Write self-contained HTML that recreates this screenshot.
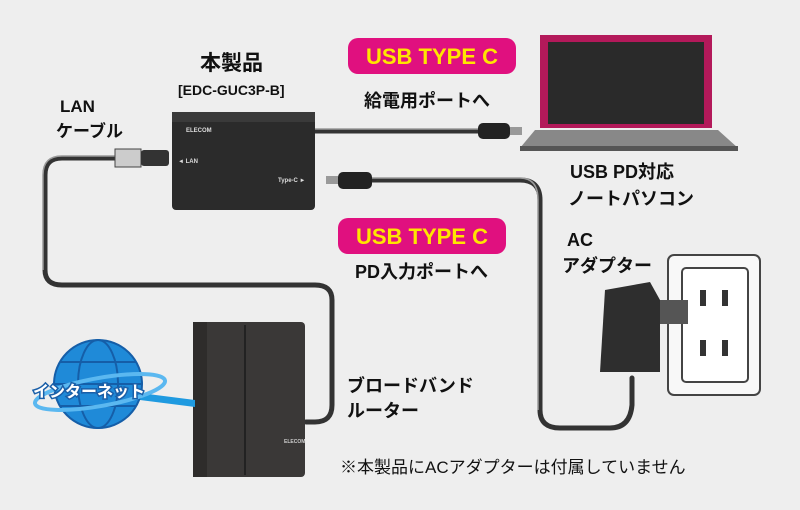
<!DOCTYPE html>
<html><head><meta charset="utf-8"><style>
html,body{margin:0;padding:0;background:#eeeeee;}
svg{display:block;}
text{font-family:"Liberation Sans","Noto Sans CJK JP",sans-serif;font-weight:bold;fill:#111;}
</style></head><body>
<svg width="800" height="510" viewBox="0 0 800 510" xmlns="http://www.w3.org/2000/svg">
<rect width="800" height="510" fill="#eeeeee"/>
<!-- cables -->
<g fill="none" stroke="#333" stroke-width="5" stroke-linecap="round">
<path d="M315 131 H480"/>
<path d="M370 180 H520 Q540 180 540 200 V410 Q540 428 560 428 H610 Q630 428 632 405 V378"/>
<path d="M118 158 H62 Q45 158 45 175 V270 Q45 285 62 285 H315 Q332 285 332 300 V405 Q332 422 315 422 H306"/>
</g>
<g fill="none" stroke="#9a9a9a" stroke-width="1.5">
<path d="M315 129 H480"/><path d="M370 178 H520 Q538 178 538 200 V410"/><path d="M118 156 H62 Q43 156 43 175 V270"/>
</g>
<!-- hub -->
<rect x="172" y="112" width="143" height="98" rx="4" fill="#2b2b2b"/>
<rect x="172" y="112" width="143" height="10" fill="#3a3a3a"/>
<text x="186" y="132" font-size="6" style="fill:#ddd">ELECOM</text>
<text x="178" y="163" font-size="6" style="fill:#ddd">◄ LAN</text>
<text x="278" y="182" font-size="6" style="fill:#ddd">Type-C ►</text>
<!-- usb-c connectors -->
<rect x="478" y="123" width="32" height="16" rx="5" fill="#222"/><rect x="510" y="127" width="12" height="8" fill="#999"/>
<rect x="338" y="172" width="34" height="17" rx="5" fill="#222"/><rect x="326" y="176" width="12" height="8" fill="#999"/>
<!-- LAN connector -->
<rect x="115" y="149" width="26" height="18" fill="#ccc" stroke="#444"/><rect x="141" y="150" width="28" height="16" rx="3" fill="#333"/>
<!-- laptop -->
<path d="M540 35 H712 V128 H540 Z" fill="#b3195a"/>
<rect x="548" y="42" width="156" height="82" fill="#2a2a2a"/>
<path d="M535 130 H718 L738 148 H520 Z" fill="#888"/>
<rect x="520" y="146" width="218" height="5" fill="#555"/>
<!-- wall plate & adapter -->
<rect x="668" y="255" width="92" height="140" rx="6" fill="#f8f8f8" stroke="#444" stroke-width="2"/>
<rect x="682" y="268" width="66" height="114" rx="4" fill="#fff" stroke="#444" stroke-width="2"/>
<rect x="700" y="290" width="6" height="16" fill="#333"/><rect x="722" y="290" width="6" height="16" fill="#333"/>
<rect x="700" y="340" width="6" height="16" fill="#333"/><rect x="722" y="340" width="6" height="16" fill="#333"/>
<rect x="660" y="300" width="28" height="24" fill="#555"/>
<path d="M605 290 L650 282 L660 300 V372 H600 Z" fill="#2e2e2e"/>
<!-- router -->
<rect x="193" y="322" width="112" height="155" rx="4" fill="#3a3837"/>
<rect x="193" y="322" width="14" height="155" fill="#2e2c2b"/>
<rect x="244" y="325" width="2" height="150" fill="#222"/>
<text x="284" y="443" font-size="5" style="fill:#ccc">ELECOM</text>
<!-- globe -->
<path d="M140 393 L195 400 L195 407 L140 400 Z" fill="#1f9ae0"/>
<circle cx="98" cy="384" r="44" fill="#1f8ad8"/>
<circle cx="98" cy="384" r="44" fill="none" stroke="#155ea8" stroke-width="2"/>
<ellipse cx="98" cy="384" rx="20" ry="44" fill="none" stroke="#155ea8" stroke-width="2"/>
<line x1="54" y1="384" x2="142" y2="384" stroke="#155ea8" stroke-width="2"/>
<line x1="60" y1="362" x2="136" y2="362" stroke="#155ea8" stroke-width="2"/>
<line x1="60" y1="406" x2="136" y2="406" stroke="#155ea8" stroke-width="2"/>
<ellipse cx="100" cy="392" rx="66" ry="14" fill="none" stroke="#5bb8f0" stroke-width="4" transform="rotate(-10 100 392)"/>
<text x="33" y="397" font-size="16" style="fill:#fff;stroke:#1a5fa8;stroke-width:3;paint-order:stroke">インターネット</text>
<!-- labels -->
<text x="200" y="70" font-size="21">本製品</text>
<text x="178" y="95" font-size="14">[EDC-GUC3P-B]</text>
<text x="60" y="112" font-size="17">LAN</text>
<text x="56" y="137" font-size="17">ケーブル</text>
<rect x="348" y="38" width="168" height="36" rx="10" fill="#e0107f"/>
<text x="432" y="64" font-size="22" text-anchor="middle" style="fill:#ffe500">USB TYPE C</text>
<text x="364" y="107" font-size="18">給電用ポートへ</text>
<text x="570" y="178" font-size="18">USB PD対応</text>
<text x="568" y="205" font-size="18">ノートパソコン</text>
<rect x="338" y="218" width="168" height="36" rx="10" fill="#e0107f"/>
<text x="422" y="244" font-size="22" text-anchor="middle" style="fill:#ffe500">USB TYPE C</text>
<text x="355" y="278" font-size="18">PD入力ポートへ</text>
<text x="567" y="246" font-size="18">AC</text>
<text x="562" y="272" font-size="18">アダプター</text>
<text x="347" y="392" font-size="18">ブロードバンド</text>
<text x="347" y="417" font-size="18">ルーター</text>
<text x="340" y="473" font-size="17" style="font-weight:normal">※本製品にACアダプターは付属していません</text>
</svg>
</body></html>
